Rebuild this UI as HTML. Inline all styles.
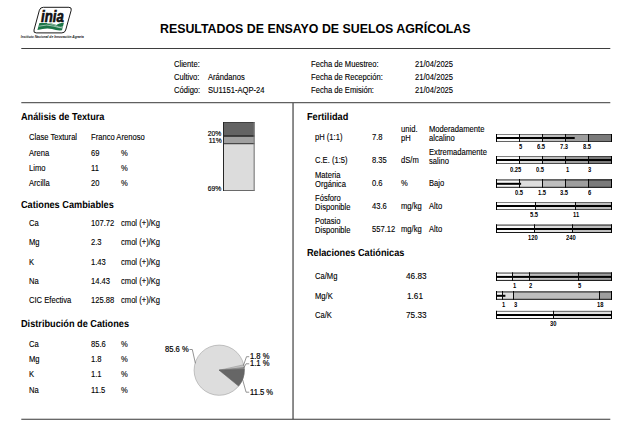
<!DOCTYPE html>
<html lang="es"><head><meta charset="utf-8"><title>Resultados de Ensayo de Suelos Agrícolas</title>
<style>
html,body{margin:0;padding:0;background:#fff;}
body{width:630px;height:433px;position:relative;overflow:hidden;font-family:"Liberation Sans",sans-serif;color:#111;}
#pg{position:absolute;left:0;top:0;width:630px;height:433px;overflow:hidden;}
#pg span{position:absolute;white-space:nowrap;line-height:1;font-size:8.6px;color:#000;transform-origin:0 50%;transform:scaleX(0.885);-webkit-text-stroke:0.12px #000;}
#pg span.b{font-weight:bold;color:#000;transform:none;-webkit-text-stroke:0;}
#pg span.h{text-rendering:geometricPrecision;}
svg{position:absolute;left:0;top:0;}
</style></head><body>
<div id="pg">
<svg width="630" height="433" viewBox="0 0 630 433">

<g>
<path d="M43.4,7.3 L68.9,7.3 Q71.9,7.3 71.2,10.2 L65.7,30.0 Q64.9,32.9 61.9,32.9 L36.2,32.9 Q33.2,32.9 34.0,30.0 L39.4,10.2 Q40.2,7.3 43.4,7.3 Z" fill="#fff" stroke="#1a1a1a" stroke-width="1.0"/>
<path d="M39.4,23.0 L46.5,23.0 Q52,23.2 56.5,25.0 Q58.5,23.4 63.9,22.8 L62.0,30.3 Q57,30.8 52,29.0 Q46,27.6 37.4,30.1 Z" fill="#1b7547"/>
<path d="M38.8,26.2 Q47,23.9 54,26.2 Q58.5,27.8 62.6,28.0" fill="none" stroke="#fff" stroke-width="0.55"/>
<path d="M47,23.1 Q54.5,24.4 58.5,26.8 Q60.5,27.8 63.0,26.6" fill="none" stroke="#fff" stroke-width="0.5"/>
</g>

<line x1="21.30" y1="48.45" x2="610.30" y2="48.45" stroke="#3e3e3e" stroke-width="1.05"/>
<line x1="292.10" y1="102.60" x2="294.00" y2="102.60" stroke="#666" stroke-width="1.0"/>
<rect x="292.15" y="102.6" width="1.8" height="316.6" fill="#808080"/>
<line x1="21.30" y1="102.60" x2="610.30" y2="102.60" stroke="#606060" stroke-width="1.1"/>
<line x1="21.30" y1="419.30" x2="610.30" y2="419.30" stroke="#363636" stroke-width="1.05"/>
<rect x="223.00" y="122.00" width="31.50" height="13.50" fill="#636363"/>
<rect x="223.00" y="135.50" width="31.50" height="8.00" fill="#a0a0a0"/>
<rect x="223.00" y="143.50" width="31.50" height="47.50" fill="#dcdcdc"/>
<rect x="223.00" y="122.00" width="31.50" height="1.00" fill="#404040"/>
<rect x="223.00" y="135.00" width="31.50" height="1.90" fill="#383838"/>
<rect x="223.00" y="143.20" width="31.50" height="1.00" fill="#262626"/>
<rect x="223.00" y="190.00" width="31.50" height="1.00" fill="#6a6a6a"/>
<rect x="223.00" y="122.00" width="1.00" height="69.00" fill="#262626"/>
<rect x="253.60" y="122.00" width="1.10" height="69.00" fill="#7a7a7a"/>
<circle cx="219.2" cy="370.2" r="25.1" fill="#dddddd" stroke="#aaaaaa" stroke-width="0.7"/>
<path d="M219.20,370.20 L243.71,364.77 A25.1,25.1 0 0 1 244.16,367.57 Z" fill="#c0c0c0" stroke="#9a9a9a" stroke-width="0.6" stroke-linejoin="round"/>
<path d="M219.20,370.20 L244.16,367.57 A25.1,25.1 0 0 1 244.28,369.30 Z" fill="#8c8c8c" stroke="#808080" stroke-width="0.6" stroke-linejoin="round"/>
<path d="M219.20,370.20 L244.28,369.30 A25.1,25.1 0 0 1 238.61,386.11 Z" fill="#666666" stroke="#606060" stroke-width="0.6" stroke-linejoin="round"/>
<polyline points="189.5,349.5 192.3,349.5 195.4,363.3" fill="none" stroke="#666" stroke-width="0.7"/>
<polyline points="249.2,356.7 246.5,356.7 243.4,365.5" fill="none" stroke="#666" stroke-width="0.7"/>
<polyline points="249.2,363.8 246.0,363.8 243.9,367.8" fill="none" stroke="#666" stroke-width="0.7"/>
<polyline points="249.2,392.2 246.1,392.2 242.1,377.8" fill="none" stroke="#666" stroke-width="0.7"/>
<rect x="496.00" y="134.00" width="23.50" height="8.00" fill="#fafafa"/>
<rect x="519.50" y="134.00" width="23.00" height="8.00" fill="#dedede"/>
<rect x="542.50" y="134.00" width="23.00" height="8.00" fill="#bebebe"/>
<rect x="565.50" y="134.00" width="23.00" height="8.00" fill="#9e9e9e"/>
<rect x="588.50" y="134.00" width="23.50" height="8.00" fill="#7a7a7a"/>
<rect x="496.00" y="137.00" width="78.70" height="2.00" fill="#000"/>
<rect x="496.0" y="134.00" width="116.0" height="1.00" fill="#000" fill-opacity="0.48"/>
<rect x="496.0" y="141.00" width="116.0" height="1" fill="#000" fill-opacity="0.6"/>
<rect x="496.00" y="134.00" width="1.00" height="8.00" fill="#000"/>
<rect x="611.00" y="134.00" width="1.00" height="8.00" fill="#000"/>
<rect x="519.00" y="134.00" width="1.00" height="8.00" fill="#0a0a0a"/>
<rect x="542.00" y="134.00" width="1.00" height="8.00" fill="#0a0a0a"/>
<rect x="565.00" y="134.00" width="1.00" height="8.00" fill="#0a0a0a"/>
<rect x="588.00" y="134.00" width="1.00" height="8.00" fill="#0a0a0a"/>
<rect x="496.00" y="156.00" width="23.50" height="8.00" fill="#fafafa"/>
<rect x="519.50" y="156.00" width="23.00" height="8.00" fill="#dedede"/>
<rect x="542.50" y="156.00" width="23.00" height="8.00" fill="#bebebe"/>
<rect x="565.50" y="156.00" width="23.00" height="8.00" fill="#9e9e9e"/>
<rect x="588.50" y="156.00" width="23.50" height="8.00" fill="#7a7a7a"/>
<rect x="496.00" y="159.00" width="116.00" height="2.00" fill="#000"/>
<rect x="496.0" y="156.00" width="116.0" height="1.00" fill="#000" fill-opacity="0.48"/>
<rect x="496.0" y="163.00" width="116.0" height="1" fill="#000" fill-opacity="0.6"/>
<rect x="496.00" y="156.00" width="1.00" height="8.00" fill="#000"/>
<rect x="611.00" y="156.00" width="1.00" height="8.00" fill="#000"/>
<rect x="519.00" y="156.00" width="1.00" height="8.00" fill="#0a0a0a"/>
<rect x="542.00" y="156.00" width="1.00" height="8.00" fill="#0a0a0a"/>
<rect x="565.00" y="156.00" width="1.00" height="8.00" fill="#0a0a0a"/>
<rect x="588.00" y="156.00" width="1.00" height="8.00" fill="#0a0a0a"/>
<rect x="496.00" y="179.00" width="23.50" height="8.80" fill="#fafafa"/>
<rect x="519.50" y="179.00" width="23.00" height="8.80" fill="#dedede"/>
<rect x="542.50" y="179.00" width="23.00" height="8.80" fill="#bebebe"/>
<rect x="565.50" y="179.00" width="23.00" height="8.80" fill="#9e9e9e"/>
<rect x="588.50" y="179.00" width="23.50" height="8.80" fill="#7a7a7a"/>
<rect x="496.00" y="182.80" width="25.10" height="2.00" fill="#000"/>
<rect x="496.0" y="179.00" width="116.0" height="1.80" fill="#000" fill-opacity="0.48"/>
<rect x="496.0" y="186.80" width="116.0" height="1" fill="#000" fill-opacity="0.9"/>
<rect x="496.00" y="179.00" width="1.00" height="8.80" fill="#000"/>
<rect x="611.00" y="179.00" width="1.00" height="8.80" fill="#000"/>
<rect x="519.00" y="179.00" width="1.00" height="8.80" fill="#0a0a0a"/>
<rect x="542.00" y="179.00" width="1.00" height="8.80" fill="#0a0a0a"/>
<rect x="565.00" y="179.00" width="1.00" height="8.80" fill="#0a0a0a"/>
<rect x="588.00" y="179.00" width="1.00" height="8.80" fill="#0a0a0a"/>
<rect x="496.00" y="202.00" width="39.50" height="8.00" fill="#fafafa"/>
<rect x="535.50" y="202.00" width="40.00" height="8.00" fill="#dedede"/>
<rect x="575.50" y="202.00" width="36.50" height="8.00" fill="#bebebe"/>
<rect x="496.00" y="205.00" width="116.00" height="2.00" fill="#000"/>
<rect x="496.0" y="202.00" width="116.0" height="1.00" fill="#000" fill-opacity="0.48"/>
<rect x="496.0" y="209.00" width="116.0" height="1" fill="#000" fill-opacity="0.6"/>
<rect x="496.00" y="202.00" width="1.00" height="8.00" fill="#000"/>
<rect x="611.00" y="202.00" width="1.00" height="8.00" fill="#000"/>
<rect x="535.00" y="202.00" width="1.00" height="8.00" fill="#0a0a0a"/>
<rect x="575.00" y="202.00" width="1.00" height="8.00" fill="#0a0a0a"/>
<rect x="496.00" y="224.30" width="38.50" height="8.70" fill="#fafafa"/>
<rect x="534.50" y="224.30" width="38.00" height="8.70" fill="#dedede"/>
<rect x="572.50" y="224.30" width="39.50" height="8.70" fill="#bebebe"/>
<rect x="496.00" y="228.00" width="116.00" height="2.00" fill="#000"/>
<rect x="496.0" y="224.30" width="116.0" height="1.70" fill="#000" fill-opacity="0.48"/>
<rect x="496.0" y="232.00" width="116.0" height="1" fill="#000" fill-opacity="0.9"/>
<rect x="496.00" y="224.30" width="1.00" height="8.70" fill="#000"/>
<rect x="611.00" y="224.30" width="1.00" height="8.70" fill="#000"/>
<rect x="534.00" y="224.30" width="1.00" height="8.70" fill="#0a0a0a"/>
<rect x="572.00" y="224.30" width="1.00" height="8.70" fill="#0a0a0a"/>
<rect x="496.00" y="272.30" width="16.50" height="8.60" fill="#fafafa"/>
<rect x="512.50" y="272.30" width="17.00" height="8.60" fill="#dedede"/>
<rect x="529.50" y="272.30" width="49.00" height="8.60" fill="#bebebe"/>
<rect x="578.50" y="272.30" width="33.50" height="8.60" fill="#9e9e9e"/>
<rect x="496.00" y="275.90" width="116.00" height="2.00" fill="#000"/>
<rect x="496.0" y="272.30" width="116.0" height="1.60" fill="#000" fill-opacity="0.48"/>
<rect x="496.0" y="279.90" width="116.0" height="1" fill="#000" fill-opacity="0.9"/>
<rect x="496.00" y="272.30" width="1.00" height="8.60" fill="#000"/>
<rect x="611.00" y="272.30" width="1.00" height="8.60" fill="#000"/>
<rect x="512.00" y="272.30" width="1.00" height="8.60" fill="#0a0a0a"/>
<rect x="529.00" y="272.30" width="1.00" height="8.60" fill="#0a0a0a"/>
<rect x="578.00" y="272.30" width="1.00" height="8.60" fill="#0a0a0a"/>
<rect x="496.00" y="291.00" width="6.50" height="8.80" fill="#fafafa"/>
<rect x="502.50" y="291.00" width="11.00" height="8.80" fill="#dedede"/>
<rect x="513.50" y="291.00" width="86.00" height="8.80" fill="#bebebe"/>
<rect x="599.50" y="291.00" width="12.50" height="8.80" fill="#9e9e9e"/>
<rect x="496.00" y="294.80" width="9.40" height="2.00" fill="#000"/>
<rect x="496.0" y="291.00" width="116.0" height="1.80" fill="#000" fill-opacity="0.48"/>
<rect x="496.0" y="298.80" width="116.0" height="1" fill="#000" fill-opacity="0.9"/>
<rect x="496.00" y="291.00" width="1.00" height="8.80" fill="#000"/>
<rect x="611.00" y="291.00" width="1.00" height="8.80" fill="#000"/>
<rect x="502.00" y="291.00" width="1.00" height="8.80" fill="#0a0a0a"/>
<rect x="513.00" y="291.00" width="1.00" height="8.80" fill="#0a0a0a"/>
<rect x="599.00" y="291.00" width="1.00" height="8.80" fill="#0a0a0a"/>
<rect x="496.00" y="310.80" width="57.50" height="8.20" fill="#fafafa"/>
<rect x="553.50" y="310.80" width="58.50" height="8.20" fill="#dedede"/>
<rect x="496.00" y="314.00" width="116.00" height="2.00" fill="#000"/>
<rect x="496.0" y="310.80" width="116.0" height="1.20" fill="#000" fill-opacity="0.48"/>
<rect x="496.0" y="318.00" width="116.0" height="1" fill="#000" fill-opacity="0.9"/>
<rect x="496.00" y="310.80" width="1.00" height="8.20" fill="#000"/>
<rect x="611.00" y="310.80" width="1.00" height="8.20" fill="#000"/>
<rect x="553.00" y="310.80" width="1.00" height="8.20" fill="#0a0a0a"/>
</svg>
<span style="left:41.2px;top:8.6px;font-size:15.8px;font-weight:bold;font-style:italic;color:#111;transform:scaleX(0.835);-webkit-text-stroke:0.65px #111;">inia</span>
<span style="left:20.8px;top:35.7px;font-size:3.3px;font-weight:bold;font-style:italic;color:#111;transform:none;-webkit-text-stroke:0;">Instituto Nacional de Innovación Agraria</span>
<span class="b" style="left:160.3px;top:22.00px;font-size:13.0px;transform:scaleX(0.951);">RESULTADOS DE ENSAYO DE SUELOS AGRÍCOLAS</span>
<span style="left:174.4px;top:60.00px;">Cliente:</span>
<span style="left:174.4px;top:73.00px;">Cultivo:</span>
<span style="left:208.2px;top:73.00px;">Arándanos</span>
<span style="left:174.4px;top:86.00px;">Código:</span>
<span style="left:208.2px;top:86.00px;">SU1151-AQP-24</span>
<span style="left:311.0px;top:60.00px;">Fecha de Muestreo:</span>
<span style="left:414.5px;top:60.00px;">21/04/2025</span>
<span style="left:311.0px;top:73.00px;">Fecha de Recepción:</span>
<span style="left:414.5px;top:73.00px;">21/04/2025</span>
<span style="left:311.0px;top:86.00px;">Fecha de Emisión:</span>
<span style="left:414.5px;top:86.00px;">21/04/2025</span>
<span class="b h" style="left:21.0px;top:113.00px;font-size:10.2px;transform:scaleX(0.9);">Análisis de Textura</span>
<span style="left:29.0px;top:133.00px;">Clase Textural</span>
<span style="left:90.6px;top:133.00px;">Franco Arenoso</span>
<span style="left:28.7px;top:149.00px;">Arena</span>
<span style="left:90.8px;top:149.00px;">69</span>
<span style="left:121.4px;top:149.00px;">%</span>
<span style="left:28.7px;top:164.00px;">Limo</span>
<span style="left:90.8px;top:164.00px;">11</span>
<span style="left:121.4px;top:164.00px;">%</span>
<span style="left:28.7px;top:179.00px;">Arcilla</span>
<span style="left:90.8px;top:179.00px;">20</span>
<span style="left:121.4px;top:179.00px;">%</span>
<span class="b h" style="left:21.0px;top:201.00px;font-size:10.2px;transform:scaleX(0.9);">Cationes Cambiables</span>
<span style="left:28.7px;top:219.00px;">Ca</span>
<span style="left:90.8px;top:219.00px;">107.72</span>
<span style="left:121.1px;top:219.00px;">cmol (+)/Kg</span>
<span style="left:28.7px;top:238.00px;">Mg</span>
<span style="left:90.8px;top:238.00px;">2.3</span>
<span style="left:121.1px;top:238.00px;">cmol (+)/Kg</span>
<span style="left:28.7px;top:258.00px;">K</span>
<span style="left:90.8px;top:258.00px;">1.43</span>
<span style="left:121.1px;top:258.00px;">cmol (+)/Kg</span>
<span style="left:28.7px;top:277.00px;">Na</span>
<span style="left:90.8px;top:277.00px;">14.43</span>
<span style="left:121.1px;top:277.00px;">cmol (+)/Kg</span>
<span style="left:28.7px;top:296.00px;">CIC Efectiva</span>
<span style="left:90.8px;top:296.00px;">125.88</span>
<span style="left:121.1px;top:296.00px;">cmol (+)/Kg</span>
<span class="b h" style="left:21.0px;top:320.00px;font-size:10.2px;transform:scaleX(0.9);">Distribución de Cationes</span>
<span style="left:28.7px;top:340.00px;">Ca</span>
<span style="left:90.8px;top:340.00px;">85.6</span>
<span style="left:121.4px;top:340.00px;">%</span>
<span style="left:28.7px;top:355.00px;">Mg</span>
<span style="left:90.8px;top:355.00px;">1.8</span>
<span style="left:121.4px;top:355.00px;">%</span>
<span style="left:28.7px;top:370.00px;">K</span>
<span style="left:90.8px;top:370.00px;">1.1</span>
<span style="left:121.4px;top:370.00px;">%</span>
<span style="left:28.7px;top:386.00px;">Na</span>
<span style="left:90.8px;top:386.00px;">11.5</span>
<span style="left:121.4px;top:386.00px;">%</span>
<span style="right:408.6px;top:130.00px;font-size:7.6px;transform-origin:100% 50%;-webkit-text-stroke:0.18px #000;">20%</span>
<span style="right:408.6px;top:137.00px;font-size:7.6px;transform-origin:100% 50%;-webkit-text-stroke:0.18px #000;">11%</span>
<span style="right:408.6px;top:185.00px;font-size:7.6px;transform-origin:100% 50%;-webkit-text-stroke:0.18px #000;">69%</span>
<span style="left:165.2px;top:345.00px;-webkit-text-stroke:0.2px #000;">85.6 %</span>
<span style="left:249.5px;top:352.00px;-webkit-text-stroke:0.2px #000;">1.8 %</span>
<span style="left:249.5px;top:359.00px;-webkit-text-stroke:0.2px #000;">1.1 %</span>
<span style="left:249.5px;top:388.00px;-webkit-text-stroke:0.2px #000;">11.5 %</span>
<span class="b h" style="left:307.0px;top:113.00px;font-size:10.2px;transform:scaleX(0.9);">Fertilidad</span>
<span style="left:314.6px;top:133.00px;">pH (1:1)</span>
<span style="left:371.7px;top:133.00px;">7.8</span>
<span style="left:400.9px;top:125.00px;">unid.</span>
<span style="left:400.9px;top:134.00px;">pH</span>
<span style="left:429.1px;top:125.00px;">Moderadamente</span>
<span style="left:429.1px;top:134.00px;">alcalino</span>
<span style="left:314.6px;top:156.00px;">C.E. (1:5)</span>
<span style="left:371.7px;top:156.00px;">8.35</span>
<span style="left:400.9px;top:156.00px;">dS/m</span>
<span style="left:429.1px;top:148.00px;">Extremadamente</span>
<span style="left:429.1px;top:157.00px;">salino</span>
<span style="left:314.6px;top:171.00px;">Materia</span>
<span style="left:314.6px;top:180.00px;">Orgánica</span>
<span style="left:371.7px;top:179.00px;">0.6</span>
<span style="left:400.9px;top:179.00px;">%</span>
<span style="left:429.1px;top:179.00px;">Bajo</span>
<span style="left:314.6px;top:194.00px;">Fósforo</span>
<span style="left:314.6px;top:203.00px;">Disponible</span>
<span style="left:371.7px;top:202.00px;">43.6</span>
<span style="left:400.9px;top:202.00px;">mg/kg</span>
<span style="left:429.1px;top:202.00px;">Alto</span>
<span style="left:314.6px;top:217.00px;">Potasio</span>
<span style="left:314.6px;top:226.00px;">Disponible</span>
<span style="left:371.7px;top:225.00px;">557.12</span>
<span style="left:400.9px;top:225.00px;">mg/kg</span>
<span style="left:429.1px;top:225.00px;">Alto</span>
<span class="b h" style="left:307.0px;top:249.00px;font-size:10.2px;transform:scaleX(0.9);">Relaciones Catiónicas</span>
<span style="left:314.6px;top:272.00px;">Ca/Mg</span>
<span style="left:406.0px;top:272.00px;transform:scaleX(0.955);">46.83</span>
<span style="left:314.6px;top:292.00px;">Mg/K</span>
<span style="left:406.6px;top:292.00px;transform:scaleX(0.955);">1.61</span>
<span style="left:314.6px;top:311.00px;">Ca/K</span>
<span style="left:406.0px;top:311.00px;transform:scaleX(0.955);">75.33</span>
<span class="b" style="left:519.1px;top:144.00px;font-size:6.3px;transform:scaleX(0.92);">5</span>
<span class="b" style="left:536.7px;top:144.00px;font-size:6.3px;transform:scaleX(0.92);">6.5</span>
<span class="b" style="left:560.2px;top:144.00px;font-size:6.3px;transform:scaleX(0.92);">7.3</span>
<span class="b" style="left:583.0px;top:144.00px;font-size:6.3px;transform:scaleX(0.92);">8.5</span>
<span class="b" style="left:510.4px;top:167.00px;font-size:6.3px;transform:scaleX(0.92);">0.25</span>
<span class="b" style="left:536.4px;top:167.00px;font-size:6.3px;transform:scaleX(0.92);">0.5</span>
<span class="b" style="left:565.6px;top:167.00px;font-size:6.3px;transform:scaleX(0.92);">1</span>
<span class="b" style="left:588.0px;top:167.00px;font-size:6.3px;transform:scaleX(0.92);">3</span>
<span class="b" style="left:514.9px;top:190.00px;font-size:6.3px;transform:scaleX(0.92);">0.5</span>
<span class="b" style="left:537.8px;top:190.00px;font-size:6.3px;transform:scaleX(0.92);">1.5</span>
<span class="b" style="left:560.2px;top:190.00px;font-size:6.3px;transform:scaleX(0.92);">3.5</span>
<span class="b" style="left:588.0px;top:190.00px;font-size:6.3px;transform:scaleX(0.92);">6</span>
<span class="b" style="left:530.2px;top:212.00px;font-size:6.3px;transform:scaleX(0.92);">5.5</span>
<span class="b" style="left:572.7px;top:212.00px;font-size:6.3px;transform:scaleX(0.92);">11</span>
<span class="b" style="left:528.2px;top:235.00px;font-size:6.3px;transform:scaleX(0.92);">120</span>
<span class="b" style="left:566.2px;top:235.00px;font-size:6.3px;transform:scaleX(0.92);">240</span>
<span class="b" style="left:513.1px;top:283.00px;font-size:6.3px;transform:scaleX(0.92);">1</span>
<span class="b" style="left:528.9px;top:283.00px;font-size:6.3px;transform:scaleX(0.92);">2</span>
<span class="b" style="left:578.0px;top:283.00px;font-size:6.3px;transform:scaleX(0.92);">5</span>
<span class="b" style="left:502.2px;top:302.00px;font-size:6.3px;transform:scaleX(0.92);">1</span>
<span class="b" style="left:513.6px;top:302.00px;font-size:6.3px;transform:scaleX(0.92);">3</span>
<span class="b" style="left:596.7px;top:302.00px;font-size:6.3px;transform:scaleX(0.92);">18</span>
<span class="b" style="left:550.0px;top:321.00px;font-size:6.3px;transform:scaleX(0.92);">30</span>
</div>
</body></html>
